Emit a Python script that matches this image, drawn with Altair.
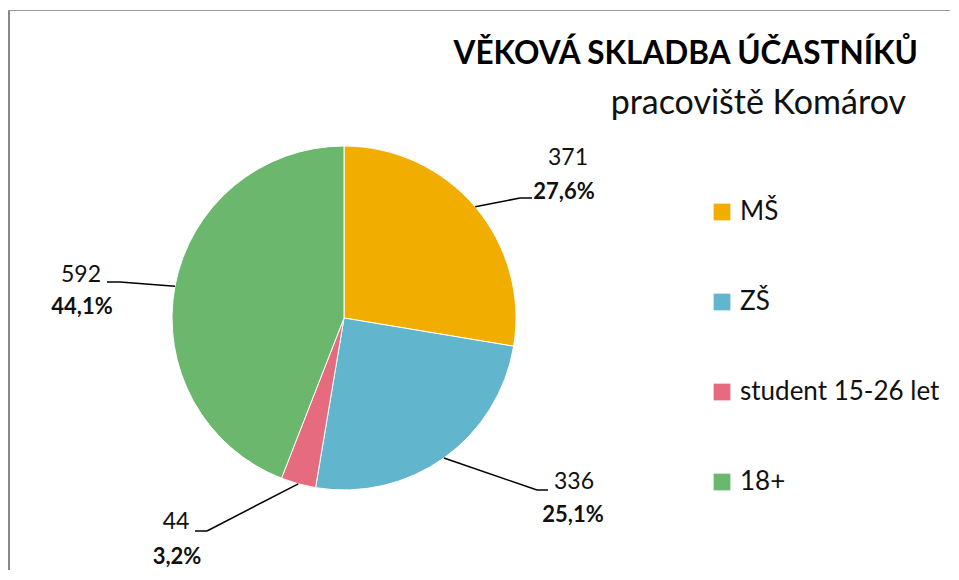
import altair as alt
import pandas as pd

# ---- data ----
categories = ["MŠ", "ZŠ", "student 15-26 let", "18+"]
values = [371, 336, 44, 592]
pct_labels = ["27,6%", "25,1%", "3,2%", "44,1%"]
colors = ["#F2AE00", "#61B5CD", "#E76B7F", "#6CB76E"]

# ---- layout (label placement relative to the pie centre, px) ----
elbow_dx = [176, 193, -137, -224]
elbow_dy = [-120, 172, 213, -36]
tail_dx = [12, 11, -12, -13]
num_dx = [224, 230, -168, -263]
num_dy = [-160, 164, 204, -43]
pct_dx = [220, 229, -167, -262]
pct_dy = [-126, 197, 239, -11]

W, H = 942, 562
CX, CY, R = 336, 310, 172
FONT = "Lato"

df = pd.DataFrame({
    "cat": categories, "value": values, "pct": pct_labels,
    "order": list(range(len(categories))),
    "edx": elbow_dx, "edy": elbow_dy, "tdx": tail_dx,
    "ndx": num_dx, "ndy": num_dy, "pdx": pct_dx, "pdy": pct_dy,
})

color = alt.Color(
    "cat:N",
    scale=alt.Scale(domain=categories, range=colors),
    legend=alt.Legend(
        title=None, orient="none", legendX=701, legendY=191,
        symbolType="square", symbolSize=280, symbolStrokeWidth=0,
        labelFontSize=26, labelFont=FONT, labelColor="#111111",
        labelOffset=5, rowPadding=64, padding=0, labelLimit=400,
        labelExpr="datum.label == 'MŠ' ? '\u00a0MŠ' : datum.label",
    ),
)

base = alt.Chart(df)

pie = base.mark_arc(outerRadius=R, stroke="white", strokeWidth=1).encode(
    theta=alt.Theta("value:Q", stack=True),
    color=color,
    order=alt.Order("order:Q"),
    x=alt.value(CX), y=alt.value(CY),
)

geo = (
    base.transform_joinaggregate(total="sum(value)")
    .transform_window(cum="sum(value)", sort=[alt.SortField("order")])
    .transform_calculate(
        mid="(datum.cum - datum.value / 2) / datum.total * 2 * PI",
        rx=f"{CX} + {R} * sin(datum.mid)",
        ry=f"{CY} - {R} * cos(datum.mid)",
        ex=f"{CX} + datum.edx",
        ey=f"{CY} + datum.edy",
        tx=f"{CX} + datum.edx + datum.tdx",
        nx=f"{CX} + datum.ndx",
        ny=f"{CY} + datum.ndy",
        px=f"{CX} + datum.pdx",
        py=f"{CY} + datum.pdy",
    )
)

lead1 = geo.mark_rule(color="#000000", strokeWidth=1.5).encode(
    x=alt.X("rx:Q", scale=None), y=alt.Y("ry:Q", scale=None),
    x2="ex:Q", y2="ey:Q",
)
lead2 = geo.mark_rule(color="#000000", strokeWidth=1.5).encode(
    x=alt.X("ex:Q", scale=None), y=alt.Y("ey:Q", scale=None),
    x2="tx:Q", y2="ey:Q",
)
num_text = geo.mark_text(font=FONT, fontSize=23, color="#111111", baseline="middle").encode(
    x=alt.X("nx:Q", scale=None), y=alt.Y("ny:Q", scale=None), text="value:Q",
)
pct_text = geo.mark_text(font=FONT, fontSize=22, fontWeight="bold", color="#111111", baseline="middle").encode(
    x=alt.X("px:Q", scale=None), y=alt.Y("py:Q", scale=None), text="pct:N",
)

title = alt.Chart(pd.DataFrame({"t": ["VĚKOVÁ SKLADBA ÚČASTNÍKŮ"]})).mark_text(
    font=FONT, fontSize=31.5, fontWeight="bold", color="#000000", align="right", baseline="middle",
).encode(x=alt.value(910), y=alt.value(47), text="t:N")
subtitle = alt.Chart(pd.DataFrame({"t": ["pracoviště Komárov"]})).mark_text(
    font=FONT, fontSize=34, color="#111111", align="right", baseline="middle",
).encode(x=alt.value(898), y=alt.value(96), text="t:N")

frame_left = alt.Chart(pd.DataFrame({"a": [0]})).mark_rule(color="#888888", strokeWidth=2).encode(
    x=alt.value(1), y=alt.value(2), y2=alt.value(H),
)
frame_top = alt.Chart(pd.DataFrame({"a": [0]})).mark_rule(color="#999999", strokeWidth=1).encode(
    x=alt.value(0), x2=alt.value(W), y=alt.value(2.5),
)

chart = alt.layer(frame_left, frame_top, pie, lead1, lead2, num_text, pct_text, title, subtitle).properties(
    width=W, height=H, padding=0, autosize=alt.AutoSizeParams(type="none"),
    background="white",
).configure_view(stroke=None)

chart.save("out.html", embed_options={"renderer": "svg", "actions": False})
